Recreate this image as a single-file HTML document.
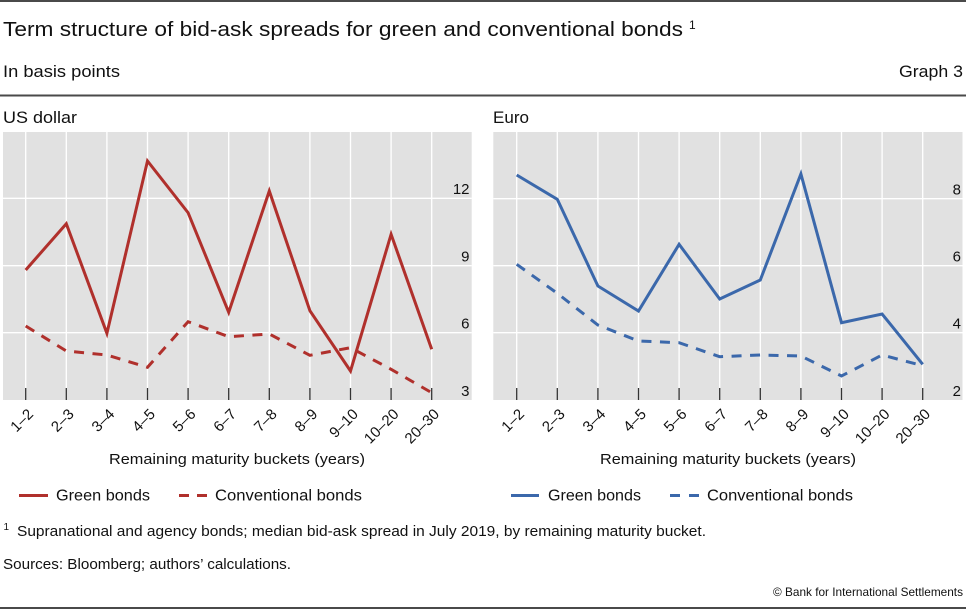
<!DOCTYPE html>
<html><head><meta charset="utf-8"><style>
html,body{margin:0;padding:0;background:#fff;}
svg{display:block;font-family:"Liberation Sans",sans-serif;}
</style></head><body>
<svg width="966" height="610" viewBox="0 0 966 610" xmlns="http://www.w3.org/2000/svg">
<rect width="966" height="610" fill="#fff"/>
<line x1="0" y1="1" x2="966" y2="1" stroke="#4a4a4a" stroke-width="2"/>
<line x1="0" y1="95.5" x2="966" y2="95.5" stroke="#4a4a4a" stroke-width="2"/>
<line x1="0" y1="608" x2="966" y2="608" stroke="#4a4a4a" stroke-width="2"/>

<text x="3" y="36" font-size="20" fill="#111" textLength="680" lengthAdjust="spacingAndGlyphs">Term structure of bid-ask spreads for green and conventional bonds</text>
<text x="689" y="29" font-size="12" fill="#111">1</text>
<text x="3" y="77" font-size="16.5" fill="#111" textLength="117" lengthAdjust="spacingAndGlyphs">In basis points</text>
<text x="963" y="77" font-size="16.5" fill="#111" text-anchor="end" textLength="64" lengthAdjust="spacingAndGlyphs">Graph 3</text>
<text x="3" y="123" font-size="17" fill="#111" textLength="74" lengthAdjust="spacingAndGlyphs">US dollar</text>
<text x="493" y="123" font-size="17" fill="#111" textLength="36" lengthAdjust="spacingAndGlyphs">Euro</text>

<!-- Left panel -->
<rect x="3" y="132" width="468.7" height="268" fill="#e1e1e1"/>
<g stroke="#fff" stroke-width="1.3">
<line x1="25.7" y1="132" x2="25.7" y2="400"/><line x1="66.3" y1="132" x2="66.3" y2="400"/>
<line x1="106.9" y1="132" x2="106.9" y2="400"/><line x1="147.5" y1="132" x2="147.5" y2="400"/>
<line x1="188.1" y1="132" x2="188.1" y2="400"/><line x1="228.7" y1="132" x2="228.7" y2="400"/>
<line x1="269.3" y1="132" x2="269.3" y2="400"/><line x1="309.9" y1="132" x2="309.9" y2="400"/>
<line x1="350.5" y1="132" x2="350.5" y2="400"/><line x1="391.1" y1="132" x2="391.1" y2="400"/>
<line x1="431.7" y1="132" x2="431.7" y2="400"/>
<line x1="3" y1="198.3" x2="471.7" y2="198.3"/><line x1="3" y1="265.7" x2="471.7" y2="265.7"/>
<line x1="3" y1="332.7" x2="471.7" y2="332.7"/>
</g>
<g stroke="#333" stroke-width="1.3">
<line x1="25.7" y1="388" x2="25.7" y2="400"/><line x1="66.3" y1="388" x2="66.3" y2="400"/>
<line x1="106.9" y1="388" x2="106.9" y2="400"/><line x1="147.5" y1="388" x2="147.5" y2="400"/>
<line x1="188.1" y1="388" x2="188.1" y2="400"/><line x1="228.7" y1="388" x2="228.7" y2="400"/>
<line x1="269.3" y1="388" x2="269.3" y2="400"/><line x1="309.9" y1="388" x2="309.9" y2="400"/>
<line x1="350.5" y1="388" x2="350.5" y2="400"/><line x1="391.1" y1="388" x2="391.1" y2="400"/>
<line x1="431.7" y1="388" x2="431.7" y2="400"/>
</g>
<polyline fill="none" stroke="#b0302c" stroke-width="3" stroke-dasharray="10 8.5" points="25.7,326 66.3,351 106.9,355 147.5,367.3 188.1,321.7 228.7,336.7 269.3,334 309.9,355.3 350.5,347.7 391.1,369.3 431.7,392.7"/>
<polyline fill="none" stroke="#b0302c" stroke-width="3" stroke-linejoin="miter" points="25.7,270 66.3,223.7 106.9,333.3 147.5,161 188.1,212.7 228.7,312.3 269.3,191 309.9,310.7 350.5,371 391.1,234.3 431.7,349.3"/>
<g font-size="15" fill="#111" text-anchor="end">
<text x="469.5" y="194">12</text><text x="469.5" y="261.5">9</text>
<text x="469.5" y="328.5">6</text><text x="469.5" y="396">3</text>
</g>
<g font-size="15" fill="#111" text-anchor="end">
<text transform="translate(34.2,415) rotate(-45)">1–2</text>
<text transform="translate(74.8,415) rotate(-45)">2–3</text>
<text transform="translate(115.4,415) rotate(-45)">3–4</text>
<text transform="translate(156,415) rotate(-45)">4–5</text>
<text transform="translate(196.6,415) rotate(-45)">5–6</text>
<text transform="translate(237.2,415) rotate(-45)">6–7</text>
<text transform="translate(277.8,415) rotate(-45)">7–8</text>
<text transform="translate(318.4,415) rotate(-45)">8–9</text>
<text transform="translate(359,415) rotate(-45)">9–10</text>
<text transform="translate(399.6,415) rotate(-45)">10–20</text>
<text transform="translate(440.2,415) rotate(-45)">20–30</text>
</g>
<text x="109" y="464" font-size="15" fill="#111" textLength="256" lengthAdjust="spacingAndGlyphs">Remaining maturity buckets (years)</text>

<!-- Right panel -->
<rect x="493.3" y="132" width="469.2" height="268" fill="#e1e1e1"/>
<g stroke="#fff" stroke-width="1.3">
<line x1="516.7" y1="132" x2="516.7" y2="400"/><line x1="557.3" y1="132" x2="557.3" y2="400"/>
<line x1="597.9" y1="132" x2="597.9" y2="400"/><line x1="638.5" y1="132" x2="638.5" y2="400"/>
<line x1="679.1" y1="132" x2="679.1" y2="400"/><line x1="719.7" y1="132" x2="719.7" y2="400"/>
<line x1="760.3" y1="132" x2="760.3" y2="400"/><line x1="800.9" y1="132" x2="800.9" y2="400"/>
<line x1="841.5" y1="132" x2="841.5" y2="400"/><line x1="882.1" y1="132" x2="882.1" y2="400"/>
<line x1="922.7" y1="132" x2="922.7" y2="400"/>
<line x1="493.3" y1="198.7" x2="962.5" y2="198.7"/><line x1="493.3" y1="265.7" x2="962.5" y2="265.7"/>
<line x1="493.3" y1="332.7" x2="962.5" y2="332.7"/>
</g>
<g stroke="#333" stroke-width="1.3">
<line x1="516.7" y1="388" x2="516.7" y2="400"/><line x1="557.3" y1="388" x2="557.3" y2="400"/>
<line x1="597.9" y1="388" x2="597.9" y2="400"/><line x1="638.5" y1="388" x2="638.5" y2="400"/>
<line x1="679.1" y1="388" x2="679.1" y2="400"/><line x1="719.7" y1="388" x2="719.7" y2="400"/>
<line x1="760.3" y1="388" x2="760.3" y2="400"/><line x1="800.9" y1="388" x2="800.9" y2="400"/>
<line x1="841.5" y1="388" x2="841.5" y2="400"/><line x1="882.1" y1="388" x2="882.1" y2="400"/>
<line x1="922.7" y1="388" x2="922.7" y2="400"/>
</g>
<polyline fill="none" stroke="#3b68ab" stroke-width="3" stroke-dasharray="10 8.5" points="516.7,264.3 557.3,293.3 597.9,325 638.5,341 679.1,342.7 719.7,356.7 760.3,355 800.9,356 841.5,376 882.1,355 922.7,365.7"/>
<polyline fill="none" stroke="#3b68ab" stroke-width="3" points="516.7,175 557.3,199.3 597.9,286 638.5,311 679.1,244.3 719.7,299 760.3,280 800.9,174 841.5,322.7 882.1,314 922.7,364.3"/>
<g font-size="15" fill="#111" text-anchor="end">
<text x="961" y="194.5">8</text><text x="961" y="261.5">6</text>
<text x="961" y="328.5">4</text><text x="961" y="396">2</text>
</g>
<g font-size="15" fill="#111" text-anchor="end">
<text transform="translate(525.2,415) rotate(-45)">1–2</text>
<text transform="translate(565.8,415) rotate(-45)">2–3</text>
<text transform="translate(606.4,415) rotate(-45)">3–4</text>
<text transform="translate(647,415) rotate(-45)">4–5</text>
<text transform="translate(687.6,415) rotate(-45)">5–6</text>
<text transform="translate(728.2,415) rotate(-45)">6–7</text>
<text transform="translate(768.8,415) rotate(-45)">7–8</text>
<text transform="translate(809.4,415) rotate(-45)">8–9</text>
<text transform="translate(850,415) rotate(-45)">9–10</text>
<text transform="translate(890.6,415) rotate(-45)">10–20</text>
<text transform="translate(931.2,415) rotate(-45)">20–30</text>
</g>
<text x="600" y="464" font-size="15" fill="#111" textLength="256" lengthAdjust="spacingAndGlyphs">Remaining maturity buckets (years)</text>

<!-- Legends -->
<line x1="19" y1="495.5" x2="48" y2="495.5" stroke="#b0302c" stroke-width="3"/>
<text x="56" y="500.5" font-size="15.5" fill="#111" textLength="94" lengthAdjust="spacingAndGlyphs">Green bonds</text>
<line x1="179" y1="495.5" x2="189" y2="495.5" stroke="#b0302c" stroke-width="3"/>
<line x1="197" y1="495.5" x2="207" y2="495.5" stroke="#b0302c" stroke-width="3"/>
<text x="215" y="500.5" font-size="15.5" fill="#111" textLength="147" lengthAdjust="spacingAndGlyphs">Conventional bonds</text>

<line x1="511" y1="495.5" x2="539" y2="495.5" stroke="#3b68ab" stroke-width="3"/>
<text x="548" y="500.5" font-size="15.5" fill="#111" textLength="93" lengthAdjust="spacingAndGlyphs">Green bonds</text>
<line x1="670" y1="495.5" x2="680" y2="495.5" stroke="#3b68ab" stroke-width="3"/>
<line x1="689" y1="495.5" x2="699" y2="495.5" stroke="#3b68ab" stroke-width="3"/>
<text x="707" y="500.5" font-size="15.5" fill="#111" textLength="146" lengthAdjust="spacingAndGlyphs">Conventional bonds</text>

<!-- Footnotes -->
<text x="3.5" y="530" font-size="10" fill="#111">1</text>
<text x="17" y="536" font-size="14.5" fill="#111" textLength="689" lengthAdjust="spacingAndGlyphs">Supranational and agency bonds; median bid-ask spread in July 2019, by remaining maturity bucket.</text>
<text x="3" y="569" font-size="14.5" fill="#111" textLength="288" lengthAdjust="spacingAndGlyphs">Sources: Bloomberg; authors’ calculations.</text>
<text x="963" y="596" font-size="12" fill="#111" text-anchor="end" textLength="190" lengthAdjust="spacingAndGlyphs">© Bank for International Settlements</text>
</svg>
</body></html>
